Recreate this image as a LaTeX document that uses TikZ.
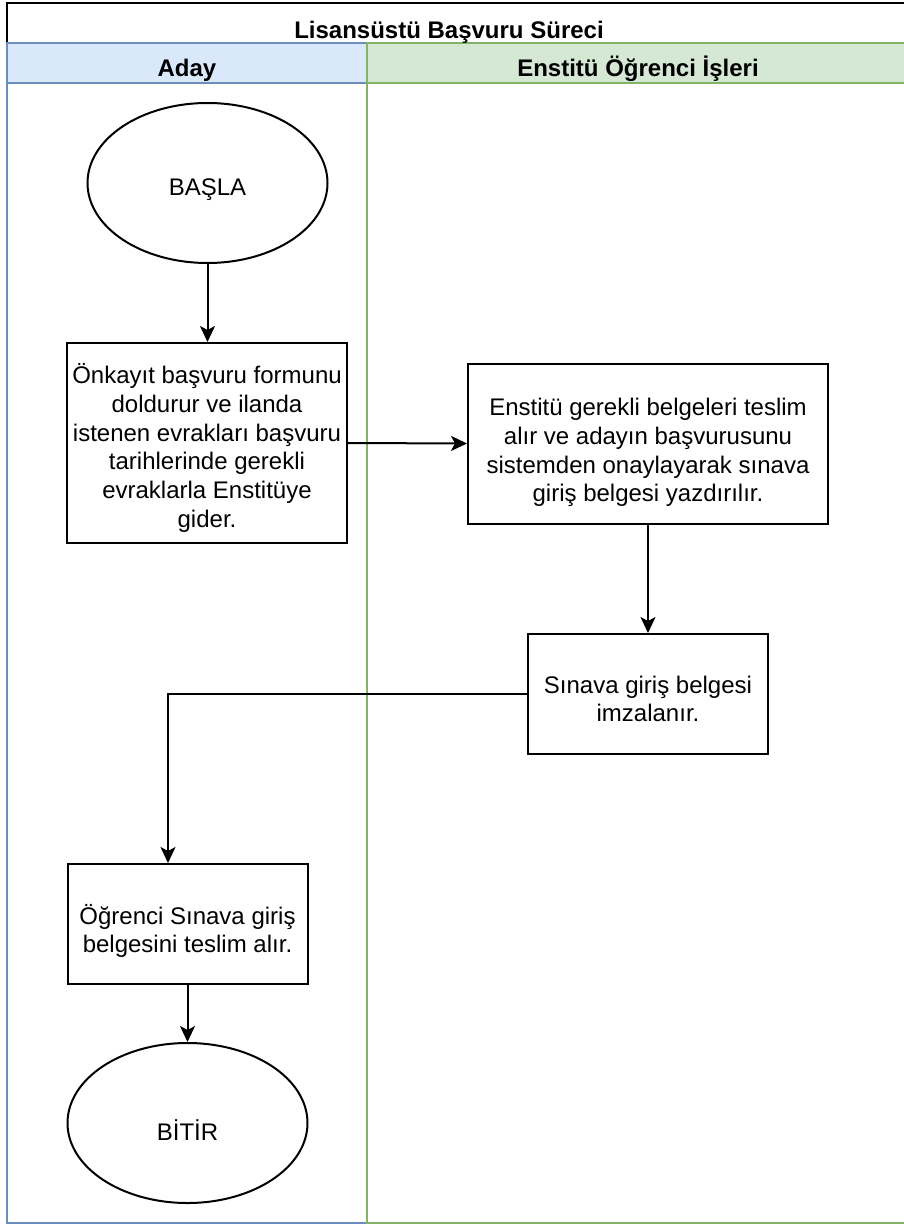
\documentclass[tikz,border=0pt]{standalone}
\usepackage{fontspec}
\setmainfont{Liberation Sans}
\usetikzlibrary{arrows.meta,shapes.geometric}
\definecolor{laneblue}{HTML}{6C8EBF}
\definecolor{lanebluefill}{HTML}{DAE8FC}
\definecolor{lanegreen}{HTML}{82B366}
\definecolor{lanegreenfill}{HTML}{D5E8D4}

\begin{document}
\begin{tikzpicture}[x=1pt,y=-1pt,
  basefont/.style={font=\fontsize{24}{28.8}\selectfont},
  headfont/.style={font=\fontsize{24}{28.8}\selectfont\bfseries},
  proc/.style={draw=black,line width=2pt,fill=white,inner sep=0pt},
  term/.style={ellipse,draw=black,line width=2pt,fill=white,inner sep=0pt,
    minimum width=240pt,minimum height=160pt},
  lbl/.style={basefont,align=center,inner sep=0pt},
  arr/.style={line width=2pt,-{Stealth[length=16pt,width=15pt,inset=4pt]}},
  lane/.style={line width=2pt}]

\useasboundingbox (0,0) rectangle (904,1225);
\clip (0,0) rectangle (904,1225);

% pool title band
\draw[lane,draw=black,fill=white] (7,3) rectangle (940,43);
% lane "Aday"
\draw[lane,draw=laneblue,fill=lanebluefill] (7,43) rectangle (367,83);
\draw[lane,draw=laneblue] (7,83) rectangle (367,1223);
% lane "Enstitü Öğrenci İşleri"
\draw[lane,draw=lanegreen,fill=lanegreenfill] (367,43) rectangle (940,83);
\draw[lane,draw=lanegreen] (367,83) rectangle (940,1223);

\node[headfont,anchor=base] (title) at (449,39) {Lisansüstü Başvuru Süreci};
\node[headfont,anchor=base] (laneA) at (187,77) {Aday};
\node[headfont,anchor=base] (laneB) at (638,77) {Enstitü Öğrenci İşleri};

% flow shapes
\node[term] (start) at (207.5,183) {};
\node[proc,minimum width=280pt,minimum height=200pt] (s1) at (207,443) {};
\node[proc,minimum width=360pt,minimum height=160pt] (s2) at (648,443.5) {};
\node[proc,minimum width=240pt,minimum height=120pt] (s3) at (648,694) {};
\node[proc,minimum width=240pt,minimum height=120pt] (s4) at (187.5,924) {};
\node[term] (stop) at (187.5,1123) {};

% texts, set slightly below the shape centres
\node[lbl] (startT) at ([yshift=-7pt]start.center) {BAŞLA};
\node[lbl] (s1T) at ([yshift=-5pt]s1.center) {Önkayıt başvuru formunu\\doldurur ve ilanda\\istenen evrakları başvuru\\tarihlerinde gerekli\\evraklarla Enstitüye\\gider.};
\node[lbl] (s2T) at ([yshift=-9pt]s2.center) {Enstitü gerekli belgeleri teslim\\alır ve adayın başvurusunu\\sistemden onaylayarak sınava\\giriş belgesi yazdırılır.};
\node[lbl] (s3T) at ([yshift=-5pt]s3.center) {Sınava giriş belgesi\\imzalanır.};
\node[lbl] (s4T) at ([yshift=-7pt]s4.center) {Öğrenci Sınava giriş\\belgesini teslim alır.};
\node[lbl] (stopT) at ([yshift=-7pt]stop.center) {BİTİR};

% connectors
\coordinate (bend) at (168,694);
\draw[arr] (start.south) -- (start.south |- s1.north);
\draw[arr] (s1.east) -- (s2.west);
\draw[arr] (s2.south) -- (s3.north);
\draw[arr] (s3.west) -- (bend) -- (bend |- s4.north);
\draw[arr] (s4.south) -- (stop.north);
\end{tikzpicture}
\end{document}
